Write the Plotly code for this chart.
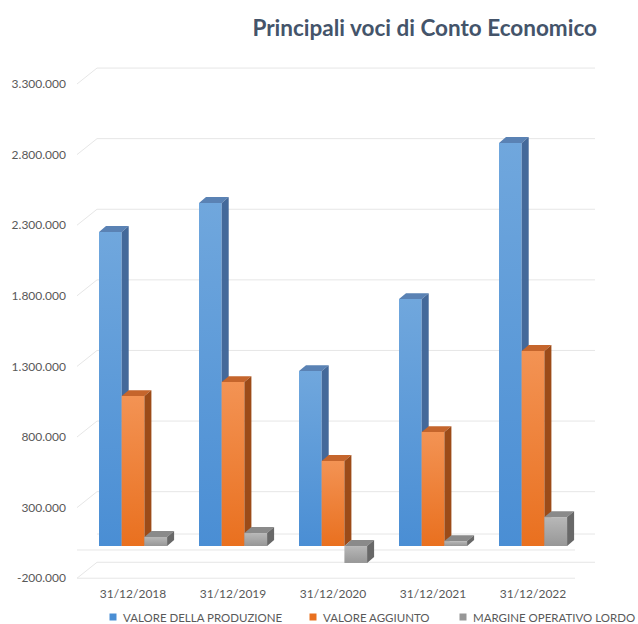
import plotly.graph_objects as go

# ---- data ---------------------------------------------------------------
categories = ["31/12/2018", "31/12/2019", "31/12/2020", "31/12/2021", "31/12/2022"]
valore_produzione = [2224000, 2429000, 1239000, 1749000, 2854000]
valore_aggiunto = [1062000, 1161000, 602000, 807000, 1381000]
margine_operativo_lordo = [64000, 92000, -120000, 35000, 205000]
series_names = ["VALORE DELLA PRODUZIONE", "VALORE AGGIUNTO", "MARGINE OPERATIVO LORDO"]
y_ticks = [-200000, 300000, 800000, 1300000, 1800000, 2300000, 2800000, 3300000]


def fmt_it(v):
    s = f"{abs(v):,}".replace(",", ".")
    return ("-" if v < 0 else "") + s


# ---- styling / pseudo-3D geometry ---------------------------------------
FONT = "Lato"
TEXT = "#595959"
GRID = "#e6e6e6"

X_MIN, X_MAX = -0.56, 4.67
Y_MIN, Y_MAX = -248000, 3470000
BAR_W = 0.227
BAR_OFFSETS = [-0.34, -0.113, 0.114]   # left edge of each series inside a group
DEPTH_X, DEPTH_Y = 0.07, 42000          # visible depth of a column
WALL_X, WALL_Y = 0.20, 113000           # depth of walls / floor
LIFT = 28000                            # columns stand slightly behind the floor edge
FLOOR_RIGHT = 4.42

styles = [
    # front gradient (bottom, top), top face, side face
    dict(bottom="#4a8ed4", top="#70a7dd", cap="#5a82b4", side="#44699a"),
    dict(bottom="#e9701f", top="#f39354", cap="#c5652c", side="#9c4b18"),
    dict(bottom="#979797", top="#b8b8b8", cap="#8a8a8a", side="#686868"),
]
values = [valore_produzione, valore_aggiunto, margine_operativo_lordo]

fig = go.Figure()

# ---- walls, floor and gridlines -----------------------------------------
gx, gy = [], []
for v in y_ticks:
    # side wall diagonal + back wall line
    gx += [X_MIN, X_MIN + WALL_X, X_MAX - 0.05, None]
    gy += [v, v + WALL_Y, v + WALL_Y, None]
# floor edges at the zero level
gx += [X_MIN, FLOOR_RIGHT, None, X_MIN + WALL_X, FLOOR_RIGHT + WALL_X, None]
gy += [0, 0, None, WALL_Y, WALL_Y, None]
# bottom front edge
gx += [X_MIN, FLOOR_RIGHT, None]
gy += [y_ticks[0], y_ticks[0], None]
fig.add_trace(go.Scatter(x=gx, y=gy, mode="lines", line=dict(color=GRID, width=1),
                         hoverinfo="skip", showlegend=False))

# ---- columns --------------------------------------------------------------
for s, (vals, st) in enumerate(zip(values, styles)):
    tops_x, tops_y, sides_x, sides_y = [], [], [], []
    for i, v in enumerate(vals):
        x0 = i + BAR_OFFSETS[s]
        x1 = x0 + BAR_W
        b0 = LIFT + min(0, v)
        b1 = LIFT + max(0, v)
        fig.add_trace(go.Scatter(
            x=[x0, x1, x1, x0, x0], y=[b0, b0, b1, b1, b0],
            mode="lines", line=dict(width=0), fill="toself",
            fillgradient=dict(type="vertical",
                              colorscale=[[0, st["bottom"]], [1, st["top"]]]),
            hoverinfo="skip", showlegend=False))
        tops_x += [x0, x1, x1 + DEPTH_X, x0 + DEPTH_X, x0, None]
        tops_y += [b1, b1, b1 + DEPTH_Y, b1 + DEPTH_Y, b1, None]
        sides_x += [x1, x1 + DEPTH_X, x1 + DEPTH_X, x1, x1, None]
        sides_y += [b0, b0 + DEPTH_Y, b1 + DEPTH_Y, b1, b0, None]
    fig.add_trace(go.Scatter(x=tops_x, y=tops_y, mode="lines", line=dict(width=0),
                             fill="toself", fillcolor=st["cap"],
                             hoverinfo="skip", showlegend=False))
    fig.add_trace(go.Scatter(x=sides_x, y=sides_y, mode="lines", line=dict(width=0),
                             fill="toself", fillcolor=st["side"],
                             hoverinfo="skip", showlegend=False))

# ---- legend (square swatch + label) --------------------------------------
legend_x = [113, 313, 463]
for name, st, px in zip(series_names, styles, legend_x):
    fig.add_shape(type="rect", xref="paper", yref="paper",
                  x0=(px - 3.5 - 77) / 523, x1=(px + 3.5 - 77) / 523,
                  y0=(585 - 617 - 3.5) / 525, y1=(585 - 617 + 3.5) / 525,
                  fillcolor=st["bottom"], line=dict(width=0))
    fig.add_annotation(text=name, xref="paper", yref="paper",
                       x=(px + 8 - 77) / 523, y=(585 - 617) / 525,
                       xanchor="left", yanchor="middle", showarrow=False,
                       font=dict(family=FONT, size=11.5, color=TEXT))

fig.update_layout(
    width=638, height=624,
    margin=dict(l=77, r=38, t=60, b=39),
    paper_bgcolor="white", plot_bgcolor="white",
    showlegend=False,
    font=dict(family=FONT, size=12, color=TEXT),
    title=dict(text="<b>Principali voci di Conto Economico</b>",
               x=597 / 638, xanchor="right", xref="container",
               y=1 - 28 / 624, yanchor="middle", yref="container",
               font=dict(family=FONT, size=22.5, color="#44546a")),
    xaxis=dict(range=[X_MIN, X_MAX], tickvals=list(range(len(categories))),
               ticktext=categories, showgrid=False, zeroline=False,
               showline=False, ticks="", tickfont=dict(size=12, color=TEXT)),
    yaxis=dict(range=[Y_MIN, Y_MAX], tickvals=y_ticks,
               ticktext=[fmt_it(v) for v in y_ticks], showgrid=False,
               zeroline=False, showline=False, ticks="", ticklabelstandoff=10,
               tickfont=dict(size=12, color=TEXT)),
)

fig.write_html("out.html")
